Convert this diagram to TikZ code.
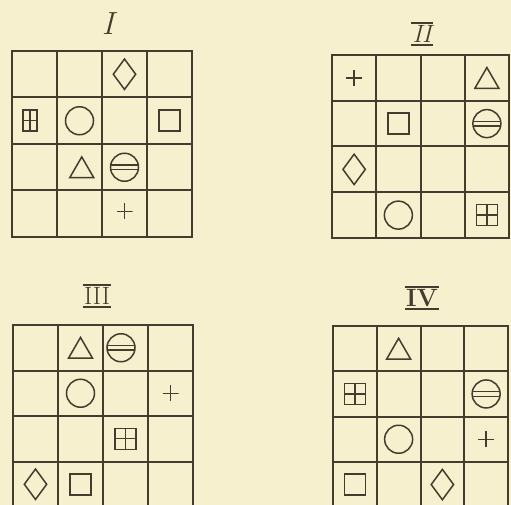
\documentclass[tikz,border=0pt]{standalone}
\usepackage{amsmath,amssymb}
\usepackage{xcolor}
\usetikzlibrary{shapes.geometric}

\definecolor{paper}{RGB}{246,240,206}
\definecolor{ink}{RGB}{68,60,46}

% numeral with a bar above and below
\newcommand{\barnum}[1]{%
  \setbox0\hbox{\kern1.5pt#1\kern1.5pt}\dimen0=\wd0
  \vbox{\hrule height 2pt width \dimen0 \kern0.8pt\box0\kern1.5pt\hrule height 2pt width \dimen0}}

\begin{document}
\begin{tikzpicture}[
    x=1pt,
    y=-1pt,
    rule/.style={
        draw=ink,
        line width=2pt
    },
    frame/.style={
        draw=ink,
        line width=2.8pt
    },
    sym/.style={
        draw=ink,
        line width=1.5pt,
        inner sep=0pt
    },
    circ/.style={sym, circle, minimum size=28pt},
    diam/.style={sym, diamond, minimum width=23pt, minimum height=31pt},
    tri/.style={sym, regular polygon, regular polygon sides=3,
        minimum size=27.7pt, yshift=-3.5pt},
    sq/.style={sym, rectangle, minimum size=21pt},
    boxplus/.style={
        sq,
        path picture={
            \draw[ink, line width=1.4pt]
                (path picture bounding box.north) -- (path picture bounding box.south)
                (path picture bounding box.west) -- (path picture bounding box.east);
        }
    },
    theta/.style={
        circ,
        path picture={
            \draw[ink, line width=1.3pt]
                ([yshift=2.3pt]path picture bounding box.west) -- ([yshift=2.3pt]path picture bounding box.east)
                ([yshift=-2.3pt]path picture bounding box.west) -- ([yshift=-2.3pt]path picture bounding box.east);
        }
    },
    cross/.style={
        rectangle,
        fill=paper,
        inner sep=0pt,
        minimum size=16pt,
        path picture={
            \draw[ink, line width=1.4pt]
                (path picture bounding box.north) -- (path picture bounding box.south)
                (path picture bounding box.west) -- (path picture bounding box.east);
        }
    },
    title/.style={
        text=ink,
        inner sep=0pt,
        font=\fontsize{25}{25}\selectfont\itshape
    }
]

    % Page
    \useasboundingbox (0,0) rectangle (511,505);
    \clip (0,0) rectangle (511,505);
    \fill[paper] (0,0) rectangle (511,505);

    % Titles
    \node [title, font=\fontsize{32}{32}\selectfont\itshape] (tI) at (108,24) {I};
    \node [title] (tII) at (422,34) {\barnum{II}};
    \node [title, font=\fontsize{25}{25}\selectfont] (tIII) at (97,296) {\barnum{III}};
    \node [title, font=\fontsize{25}{25}\selectfont\bfseries] (tIV) at (422,298) {\barnum{IV}};

    % Grid I
    \begin{scope}[shift={(12,51)}, x=45pt, y=-46.5pt]
        \foreach \k in {1,2,3} {
            \draw [rule] (\k,0) -- (\k,4);
            \draw [rule] (0,\k) -- (4,\k);
        }
        \draw [frame] (0,0) rectangle (4,4);
        \node [diam] (I-diam) at (2.5,0.5) {};
        \node [boxplus, minimum width=14pt, minimum height=21pt] (I-box) at (0.4,1.5) {};
        \node [circ] (I-circ) at (1.5,1.5) {};
        \node [sq] (I-sq) at (3.5,1.5) {};
        \node [tri] (I-tri) at (1.55,2.5) {};
        \node [theta] (I-theta) at (2.5,2.5) {};
        \node [cross] (I-cross) at (2.5,3.45) {};
    \end{scope}

    % Grid II
    \begin{scope}[shift={(332,55)}, x=44.25pt, y=-45.75pt]
        \foreach \k in {1,2,3} {
            \draw [rule] (\k,0) -- (\k,4);
            \draw [rule] (0,\k) -- (4,\k);
        }
        \draw [frame] (0,0) rectangle (4,4);
        \node [cross] (II-cross) at (0.5,0.5) {};
        \node [tri] (II-tri) at (3.5,0.5) {};
        \node [sq] (II-sq) at (1.5,1.5) {};
        \node [theta] (II-theta) at (3.5,1.5) {};
        \node [diam] (II-diam) at (0.5,2.5) {};
        \node [circ] (II-circ) at (1.5,3.5) {};
        \node [boxplus] (II-box) at (3.5,3.5) {};
    \end{scope}

    % Grid III
    \begin{scope}[shift={(13,325)}, x=45pt, y=-45.5pt]
        \foreach \k in {1,2,3} {
            \draw [rule] (\k,0) -- (\k,4);
            \draw [rule] (0,\k) -- (4,\k);
        }
        \draw [frame] (0,0) rectangle (4,4);
        \node [tri] (III-tri) at (1.5,0.5) {};
        \node [theta] (III-theta) at (2.4,0.5) {};
        \node [circ] (III-circ) at (1.5,1.5) {};
        \node [cross] (III-cross) at (3.5,1.5) {};
        \node [boxplus] (III-box) at (2.5,2.5) {};
        \node [diam] (III-diam) at (0.5,3.5) {};
        \node [sq] (III-sq) at (1.5,3.5) {};
    \end{scope}

    % Grid IV
    \begin{scope}[shift={(333,326)}, x=43.75pt, y=-45.3pt]
        \foreach \k in {1,2,3} {
            \draw [rule] (\k,0) -- (\k,4);
            \draw [rule] (0,\k) -- (4,\k);
        }
        \draw [frame] (0,0) rectangle (4,4);
        \node [tri] (IV-tri) at (1.5,0.5) {};
        \node [boxplus] (IV-box) at (0.5,1.5) {};
        \node [theta] (IV-theta) at (3.5,1.5) {};
        \node [circ] (IV-circ) at (1.5,2.5) {};
        \node [cross] (IV-cross) at (3.5,2.5) {};
        \node [sq] (IV-sq) at (0.5,3.5) {};
        \node [diam] (IV-diam) at (2.5,3.5) {};
    \end{scope}
\end{tikzpicture}
\end{document}
